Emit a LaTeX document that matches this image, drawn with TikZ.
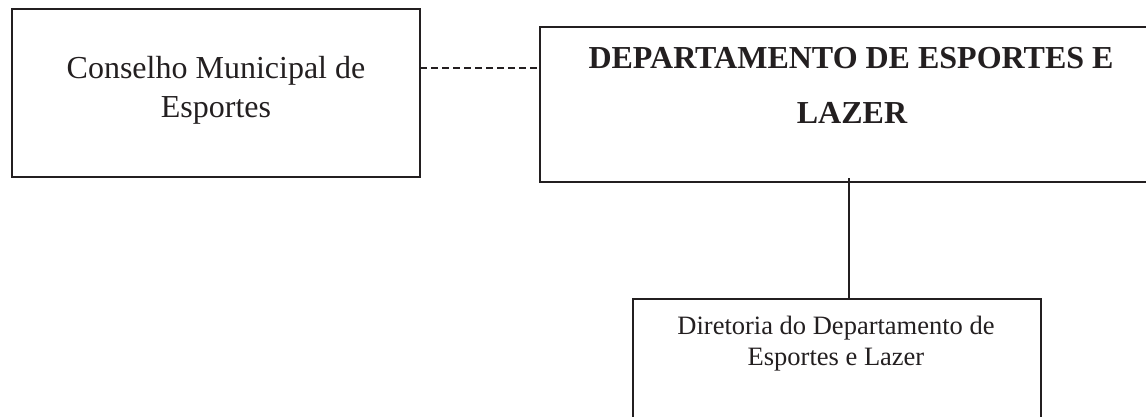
\documentclass[tikz,border=0pt]{standalone}
\usepackage{fontspec}
\setmainfont{Liberation Serif}
\definecolor{ink}{HTML}{231F20}
\begin{document}
\begin{tikzpicture}[x=1pt,y=-1pt,
  box/.style={draw=ink,line width=1.6pt,rectangle,inner sep=0pt,outer sep=0pt},
  lbl/.style={anchor=base,inner sep=0pt,text=ink},
  big/.style={lbl,font=\fontsize{32}{38}\selectfont},
  bigb/.style={lbl,font=\fontsize{32}{38}\selectfont\bfseries},
  small/.style={lbl,font=\fontsize{26.5}{31}\selectfont},
  conn/.style={draw=ink,line width=1.6pt},
  dashconn/.style={draw=ink,line width=1.4pt,dash pattern=on 6.5pt off 4.5pt}]
\useasboundingbox (0,0) rectangle (1146,416);
% boxes
\node[box,minimum width=408pt,minimum height=168pt] (cons) at (216,93) {};
\node[box,minimum width=630pt,minimum height=155pt] (dept) at (855,104.5) {};
\node[box,minimum width=408pt,minimum height=141pt] (dir) at (837,369.5) {};
% labels
\node[big] (c1) at (216,78) {Conselho Municipal de};
\node[big] (c2) at (216,117) {Esportes};
\node[bigb] (d1) at (851,68) {DEPARTAMENTO DE ESPORTES E};
\node[bigb] (d2) at (852,123) {LAZER};
\node[small] (r1) at (836,334) {Diretoria do Departamento de};
\node[small] (r2) at (836,365) {Esportes e Lazer};
% connector anchor points
\coordinate (consE) at (cons.east |- 0,68);
\coordinate (deptW) at (dept.west |- 0,68);
\coordinate (deptS) at ([yshift=4pt]dept.south -| 849,0);
\coordinate (dirN) at (dir.north -| 849,0);
% connectors
\draw[dashconn] (consE) -- (deptW);
\draw[conn] (deptS) -- (dirN);
\end{tikzpicture}
\end{document}
